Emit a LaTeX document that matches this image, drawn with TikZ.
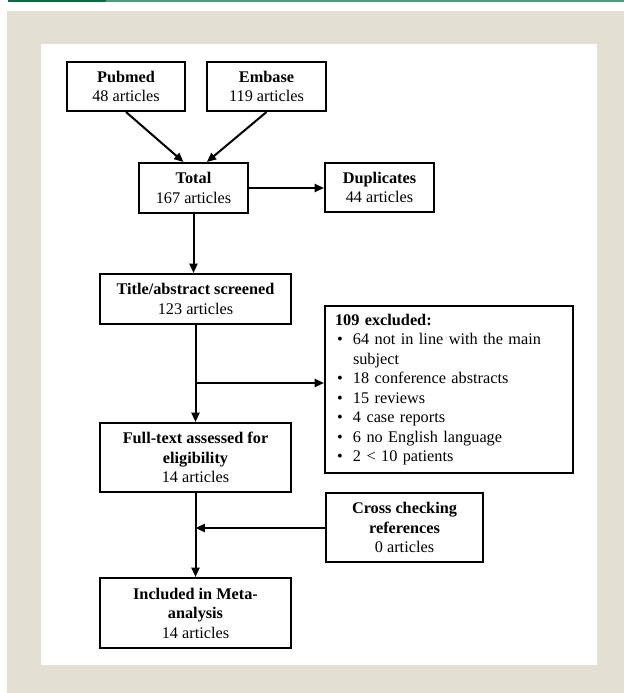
\documentclass[tikz,border=0pt]{standalone}
\usepackage{fontspec}
\setmainfont{Liberation Serif}
\usepackage{xcolor}
\usepackage{tikz}
\usetikzlibrary{arrows.meta}

\definecolor{bgbeige}{RGB}{228,223,211}
\definecolor{bardark}{RGB}{10,107,69}
\definecolor{barlight}{RGB}{78,154,122}

\newcommand{\bull}{\makebox[13.5pt][l]{\hspace{1.5pt}\textbullet}}

\begin{document}
\begin{tikzpicture}[x=0.75pt,y=0.75pt,yscale=-1,xscale=1,
  flowbox/.style={draw, line width=1.5pt, fill=white, align=center, inner sep=2pt,
    font=\fontsize{12.2}{14.6}\selectfont},
  flowarrow/.style={line width=1.5pt, -{Triangle[length=7pt,width=6pt]}}]
\useasboundingbox (0,0) rectangle (624,693);

%Shape: Rectangle [background]
\fill[bgbeige] (7,11) rectangle (624,693);
\fill[white] (41,44) rectangle (597,665);
\fill[bardark] (8,0) rectangle (106,1.8);
\fill[barlight] (106,0) rectangle (624,1.8);

% Text Node
\node[flowbox, minimum width=88.5pt, minimum height=36.75pt] (pubmed) at (126,86.5) {\textbf{Pubmed}\\48 articles};
% Text Node
\node[flowbox, minimum width=89.25pt, minimum height=36.75pt] (embase) at (266.5,86.5) {\textbf{Embase}\\119 articles};
% Text Node
\node[flowbox, minimum width=81.75pt, minimum height=37.5pt] (total) at (193.5,188) {\textbf{Total}\\167 articles};
% Text Node
\node[flowbox, minimum width=81.75pt, minimum height=36.75pt] (dupl) at (379.5,187.5) {\textbf{Duplicates}\\44 articles};
% Text Node
\node[flowbox, minimum width=143.25pt, minimum height=37.5pt] (title) at (195.5,299) {\textbf{Title/abstract screened}\\123 articles};
% Text Node
\node[flowbox, align=left, inner xsep=7.5pt, text width=171pt, minimum height=125.25pt] (excl) at (449,389.5)
  {\textbf{109 excluded:}\\
   \bull 64 not in line with the main\\
   \hspace*{13.5pt}subject\\
   \bull 18 conference abstracts\\
   \bull 15 reviews\\
   \bull 4 case reports\\
   \bull 6 no English language\\
   \bull 2 {\textless} 10 patients};
% Text Node
\node[flowbox, minimum width=143.25pt, minimum height=51.75pt] (full) at (195.5,457.5) {\textbf{Full-text assessed for}\\\textbf{eligibility}\\14 articles};
% Text Node
\node[flowbox, minimum width=117.75pt, minimum height=51.75pt] (cross) at (404.5,527.5) {\textbf{Cross checking}\\\textbf{references}\\0 articles};
% Text Node
\node[flowbox, minimum width=143.25pt, minimum height=52.5pt] (incl) at (195.5,613) {\textbf{Included in Meta-}\\\textbf{analysis}\\14 articles};

\coordinate (split1) at (195.5,383);
\coordinate (join1) at (195.5,528);

%Straight Lines
\draw[flowarrow] (pubmed.south) -- ([xshift=-7.5pt]total.north);
\draw[flowarrow] (embase.south) -- ([xshift=10pt]total.north);
\draw[flowarrow] (total.east) -- (total.east -| dupl.west);
\draw[flowarrow] (total.south) -- (total.south |- title.north);
\draw[flowarrow] (title.south) -- (full.north);
\draw[flowarrow] (split1) -- (split1 -| excl.west);
\draw[flowarrow] (full.south) -- (incl.north);
\draw[flowarrow] (cross.west |- join1) -- (join1);

\end{tikzpicture}
\end{document}
